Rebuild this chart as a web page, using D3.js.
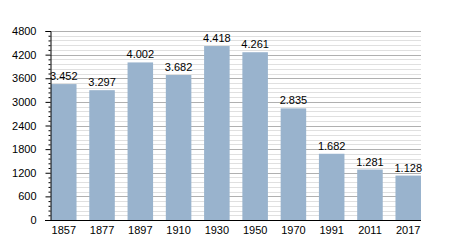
<!DOCTYPE html>
<html>
<head>
<meta charset="utf-8">
<script src="https://cdn.jsdelivr.net/npm/d3@7"></script>
<style>
  body { margin: 0; background: #fff; }
  svg { display: block; font-family: "Liberation Sans", Arial, sans-serif; }
</style>
</head>
<body>
<svg id="chart" width="450" height="250"></svg>
<script>
const years = ["1857", "1877", "1897", "1910", "1930", "1950", "1970", "1991", "2011", "2017"];
const population = [3452, 3297, 4002, 3682, 4418, 4261, 2835, 1682, 1281, 1128];
const valueLabels = ["3.452", "3.297", "4.002", "3.682", "4.418", "4.261", "2.835", "1.682", "1.281", "1.128"];
const yTicks = [0, 600, 1200, 1800, 2400, 3000, 3600, 4200, 4800];

(function () {
const svg = d3.select("#chart");
const mLeft = 50, mRight = 421, mTop = 31, mBottom = 220;

const x = d3.scaleBand().domain(years).range([mLeft + 1, mRight]).paddingInner(0.333).paddingOuter(0);
const y = d3.scaleLinear().domain([0, 4800]).range([mBottom, mTop]);

const minorTicks = d3.range(0, 4801, 120).filter(v => v % 600 !== 0);

// minor gridlines
svg.append("g").selectAll("line").data(minorTicks).join("line")
  .attr("x1", mLeft).attr("x2", mRight)
  .attr("y1", d => Math.round(y(d)) + 0.5).attr("y2", d => Math.round(y(d)) + 0.5)
  .attr("stroke", "#e0e0e0").attr("stroke-width", 1);

// major gridlines
svg.append("g").selectAll("line").data(yTicks.filter(v => v > 0)).join("line")
  .attr("x1", mLeft).attr("x2", mRight)
  .attr("y1", d => Math.round(y(d)) + 0.5).attr("y2", d => Math.round(y(d)) + 0.5)
  .attr("stroke", "#b0b0b0").attr("stroke-width", 1);

// bars
svg.append("g").selectAll("rect").data(population).join("rect")
  .attr("x", (d, i) => x(years[i]))
  .attr("width", x.bandwidth())
  .attr("y", d => y(d))
  .attr("height", d => y(0) - y(d))
  .attr("fill", "#99b3cd");

// value labels
svg.append("g").selectAll("text").data(population).join("text")
  .attr("x", (d, i) => x(years[i]) + x.bandwidth() / 2)
  .attr("y", d => y(d) - 4)
  .attr("text-anchor", "middle")
  .attr("font-size", 11)
  .attr("fill", "#000")
  .text((d, i) => valueLabels[i]);

// y axis (major)
const yAxis = d3.axisLeft(y).tickValues(yTicks).tickSize(5).tickPadding(9).tickFormat(d3.format("d"));
const yg = svg.append("g").attr("transform", `translate(${mLeft + 0.5},0)`).call(yAxis);
yg.select(".domain").attr("stroke", "#000");
yg.selectAll(".tick line").attr("stroke", "#000");
yg.selectAll(".tick text").attr("font-size", 11).attr("font-family", "Liberation Sans, Arial, sans-serif").attr("fill", "#000");

// y axis minor ticks
const yMinor = d3.axisLeft(y).tickValues(minorTicks).tickSize(2).tickFormat("");
const ymg = svg.append("g").attr("transform", `translate(${mLeft + 0.5},0)`).call(yMinor);
ymg.select(".domain").remove();
ymg.selectAll(".tick line").attr("stroke", "#000");

// x axis
const xAxis = d3.axisBottom(x).tickSize(0).tickPadding(6);
const xg = svg.append("g").attr("transform", `translate(0,${mBottom + 0.5})`).call(xAxis);
xg.select(".domain").attr("d", `M${mLeft - 5},0H${mRight}`).attr("stroke", "#000");
xg.selectAll(".tick text").attr("font-size", 11).attr("font-family", "Liberation Sans, Arial, sans-serif").attr("fill", "#000");
})();
</script>
</body>
</html>
